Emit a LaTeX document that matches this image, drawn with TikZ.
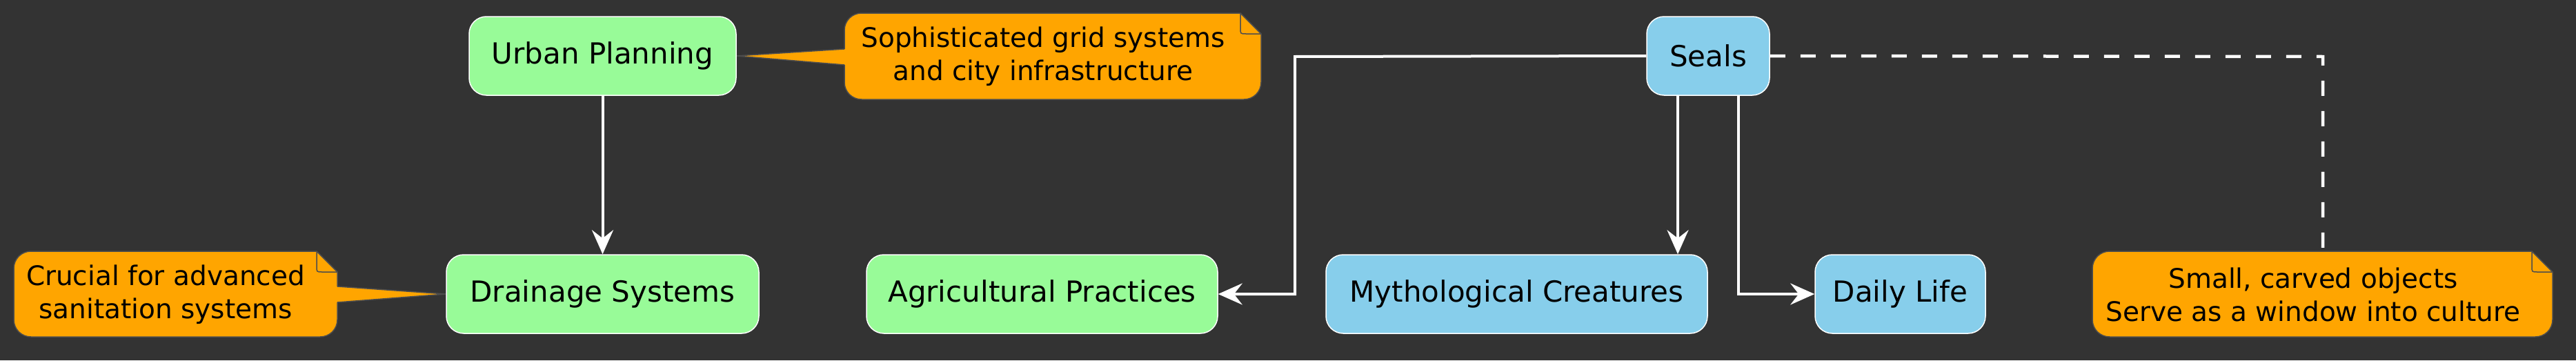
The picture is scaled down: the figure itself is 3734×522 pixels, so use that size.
\documentclass[tikz,border=0pt]{standalone}
\usepackage{fontspec}
\setmainfont{DejaVu Sans}
\usetikzlibrary{arrows.meta}
\definecolor{bgc}{HTML}{333333}
\definecolor{greenc}{HTML}{98FB98}
\definecolor{bluec}{HTML}{87CEEB}
\definecolor{notec}{HTML}{FFA500}
\definecolor{noteline}{HTML}{4D4D4D}
\pgfdeclarelayer{bglayer}
\pgfdeclarelayer{notelayer}
\pgfsetlayers{bglayer,notelayer,main}
\newcommand\mynotebox[4]{%
 \fill[notec,draw=noteline,line width=1.5pt] ({#1+25},#2) -- ({#3-30},#2) -- (#3,{#2+30}) -- (#3,{#4-25}) .. controls (#3,{#4-11}) and ({#3-11},#4) .. ({#3-25},#4) -- ({#1+25},#4) .. controls ({#1+11},#4) and (#1,{#4-11}) .. (#1,{#4-25}) -- (#1,{#2+25}) .. controls (#1,{#2+11}) and ({#1+11},#2) .. ({#1+25},#2) -- cycle;
 \draw[noteline,line width=1.5pt] ({#3-30},#2) -- ({#3-30},{#2+22}) .. controls ({#3-30},{#2+30}) .. ({#3-22},{#2+30}) -- (#3,{#2+30});
}
\tikzset{
 box/.style={draw=white, line width=1.5pt, rounded corners=25pt, minimum height=114pt, inner sep=0pt, font=\fontsize{42}{50}\selectfont, text=black},
 greenbox/.style={box, fill=greenc},
 bluebox/.style={box, fill=bluec},
 notetext/.style={align=center, font=\fontsize{39}{48}\selectfont, text=black, inner sep=0pt},
 conn/.style={white, line width=4pt, -{Stealth[length=35pt,width=31pt,inset=12pt]}},
 dashconn/.style={white, line width=4.5pt, dash pattern=on 22pt off 22pt},
 pointer/.style={notec},
 pointeredge/.style={noteline, line width=1.5pt},
}
\begin{document}
\begin{tikzpicture}[x=1pt,y=-1pt]
\useasboundingbox (0,0) rectangle (3734,522);
\begin{pgfonlayer}{bglayer}
\fill[bgc] (0,0) rectangle (3734,522);
\end{pgfonlayer}

\node[greenbox, minimum width=387pt] (urban) at (873.5,81) {Urban Planning};
\node[greenbox, minimum width=453pt] (drain) at (873.5,426) {Drainage Systems};
\node[greenbox, minimum width=509pt] (agri) at (1510.5,426) {Agricultural Practices};
\node[bluebox, minimum width=553pt] (myth) at (2198.5,426) {Mythological Creatures};
\node[bluebox, minimum width=247pt] (daily) at (2754.5,426) {Daily Life};
\node[bluebox, minimum width=178pt] (seals) at (2476,81) {Seals};

\node[notetext] (n1) at (240,427) {Crucial for advanced\\sanitation systems};
\node[notetext] (n2) at (1512,82) {Sophisticated grid systems\\and city infrastructure};
\node[notetext] (n3) at (3353,427) {Small, carved objects\\Serve as a window into culture};

\begin{pgfonlayer}{notelayer}
\mynotebox{20}{364}{489}{488}
\mynotebox{1224}{19}{1828}{144}
\mynotebox{3033}{364}{3700}{488}
\fill[pointer] (486,415) -- (drain.west) -- (486,438) -- cycle;
\draw[pointeredge] (489,415) -- (drain.west) -- (489,438);
\fill[pointer] (1227,71) -- (urban.east) -- (1227,94) -- cycle;
\draw[pointeredge] (1224,71) -- (urban.east) -- (1224,94);
\end{pgfonlayer}

\coordinate (bendA) at (1877,82);
\coordinate (bendB) at (3367,82);
\coordinate (n3top) at (3367,364);

\draw[conn] (urban) -- (drain);
\draw[conn] (seals.west) -- (bendA) |- (agri.east);
\draw[conn] ([xshift=-44pt]seals.south) -- ([xshift=-44pt]seals.south |- myth.north);
\draw[conn] ([xshift=44pt]seals.south) |- (daily.west);
\draw[dashconn] (seals.east) -- (bendB) -- (n3top);
\end{tikzpicture}
\end{document}
